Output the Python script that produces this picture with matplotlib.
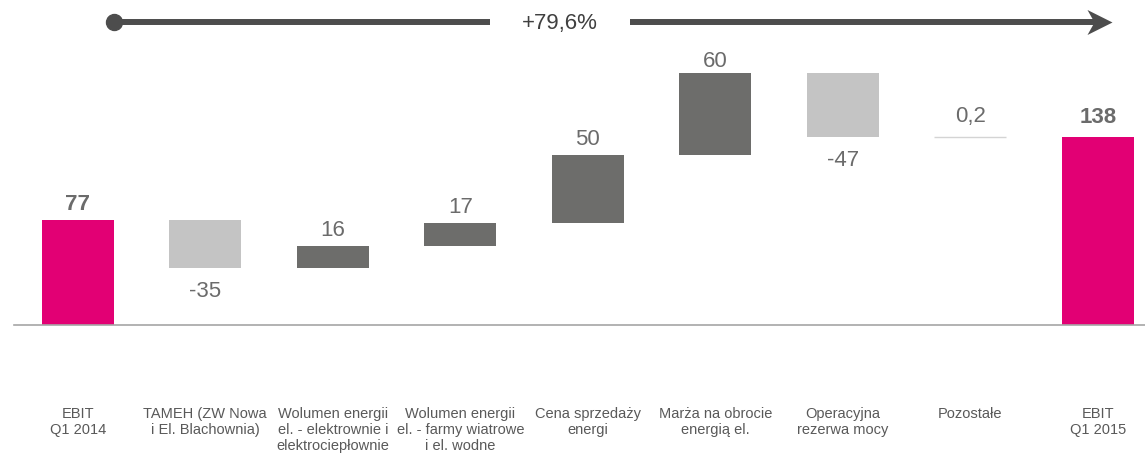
import matplotlib.pyplot as plt
import numpy as np
from matplotlib.path import Path

plt.rcParams["font.family"] = ["Liberation Sans", "DejaVu Sans"]

categories = [
    "EBIT\nQ1 2014",
    "TAMEH (ZW Nowa\ni El. Blachownia)",
    "Wolumen energii\nel. - elektrownie i\nelektrociepłownie",
    "Wolumen energii\nel. - farmy wiatrowe\ni el. wodne",
    "Cena sprzedaży\nenergi",
    "Marża na obrocie\nenergią el.",
    "Operacyjna\nrezerwa mocy",
    "Pozostałe",
    "EBIT\nQ1 2015",
]
start_total = 77
changes = [-35, 16, 17, 50, 60, -47, 0.2]
end_total = 138
change_labels = ["-35", "16", "17", "50", "60", "-47", "0,2"]
growth_label = "+79,6%"

MAGENTA = "#e20074"
DARK = "#6d6d6b"
LIGHT = "#c4c4c4"
TEXT = "#6b6b6b"
ARROW = "#4d4d4d"
PX = 0.72  # points per pixel at 100 dpi

fig = plt.figure(figsize=(11.45, 4.53), dpi=100)
ax = fig.add_axes([14 / 1145, 128 / 453, 1 - 14 / 1145, 325 / 453])
ax.set_xlim(-0.5, 8.37)
ax.set_ylim(0, 238.4)
ax.axis("off")

x = np.arange(len(categories))
width = 0.565
# gap (px) between a bar end and its label, per bar
label_gap = [10, 13, 10, 10, 10, 6, 13, 15, 14]


def value_label(xi, y, text, gap, above, bold=False):
    dy = gap * PX if above else -(gap + 16.5) * PX
    ax.annotate(text, (xi, y), xytext=(0, dy), textcoords="offset points",
                ha="center", va="baseline", fontsize=16, color=TEXT,
                fontweight="bold" if bold else "normal")


# totals
for xi, val in ((0, start_total), (8, end_total)):
    ax.bar(xi, val, width=width, color=MAGENTA, zorder=2)
    value_label(xi, val, f"{val}", label_gap[xi], True, bold=True)

# floating steps
level = start_total
for i, (d, lab) in enumerate(zip(changes, change_labels), start=1):
    bottom = level if d >= 0 else level + d
    if abs(d) < 1:
        ax.bar(i, d, bottom=bottom, width=width, color=LIGHT, edgecolor="#d4d4d4",
               linewidth=1, zorder=2)
    else:
        ax.bar(i, abs(d), bottom=bottom, width=width,
               color=DARK if d > 0 else LIGHT, zorder=2)
    value_label(i, level + d, lab, label_gap[i], d >= 0)
    level += d

# baseline
ax.plot([-0.5, 8.37], [0, 0], color="#a6a6a6", lw=1.2, clip_on=False, zorder=3)

# category labels
for xi, cat in zip(x, categories):
    ax.text(xi, -60, cat, ha="center", va="top", fontsize=10.5, color="#595959",
            linespacing=1.2, clip_on=False)

# growth arrow across the top
ay = 222
ax.plot([0.285, 3.23], [ay, ay], color=ARROW, lw=4.3, solid_capstyle="butt")
ax.plot(0.285, ay, "o", color=ARROW, ms=11.5)
ax.plot([4.33, 8.0], [ay, ay], color=ARROW, lw=4.3, solid_capstyle="butt")
head = Path([(0, 0), (-1, 0.5), (-0.72, 0), (-1, -0.5), (0, 0)],
            [Path.MOVETO, Path.LINETO, Path.LINETO, Path.LINETO, Path.CLOSEPOLY])
ax.plot(8.11, ay, marker=head, color=ARROW, ms=36, mew=0)
ax.text(3.78, ay - 1, growth_label, ha="center", va="center", fontsize=16,
        color="#404040")

fig.savefig("out.png", dpi=100)
